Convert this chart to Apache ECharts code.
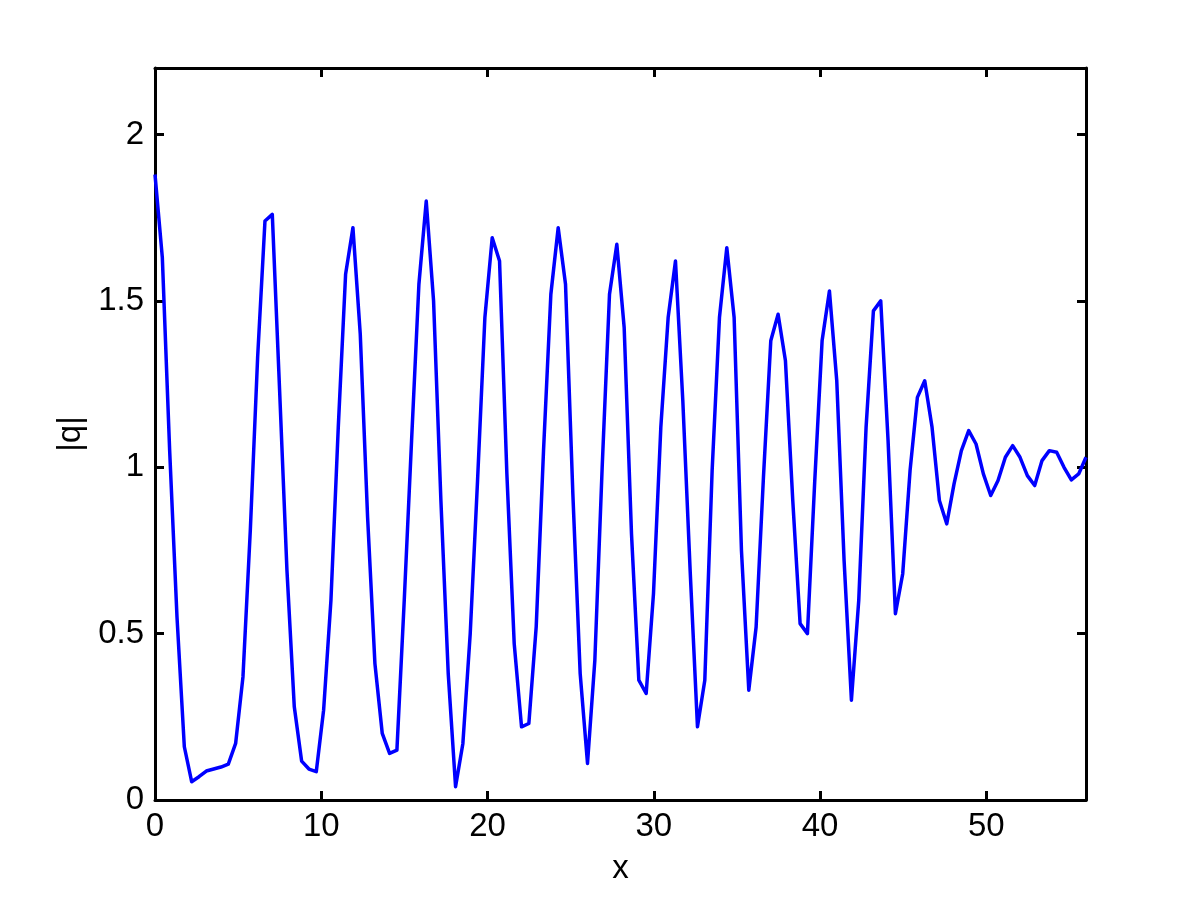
<!DOCTYPE html>
<html lang="en">
<head>
    <meta charset="UTF-8">
    <title>|q| vs x</title>
    <script type="text/javascript" src="https://cdn.jsdelivr.net/npm/echarts@6.0.0/dist/echarts.min.js"></script>
    <style>
        html, body { margin: 0; padding: 0; background: #fff; }
    </style>
</head>
<body>
    <div id="main" style="width: 1200px;height:900px;"></div>
    <script type="text/javascript">
        // sample grid: 128 points from x = 0 to x = 56
        var xStart = 0;
        var xEnd = 56;
        var nPoints = 128;

        // |q|, one value per sample point
        var qAbs = [
            1.88, 1.63, 1.05, 0.55, 0.16, 0.055, 0.07, 0.087, 0.093, 0.099,
            0.108, 0.17, 0.37, 0.81, 1.33, 1.74, 1.76, 1.23, 0.69, 0.28,
            0.117, 0.093, 0.085, 0.27, 0.60, 1.12, 1.58, 1.72, 1.40, 0.85,
            0.41, 0.20, 0.14, 0.15, 0.60, 1.08, 1.55, 1.80, 1.50, 0.90,
            0.38, 0.04, 0.17, 0.50, 0.96, 1.45, 1.69, 1.62, 0.98, 0.47,
            0.22, 0.23, 0.52, 1.05, 1.52, 1.72, 1.55, 0.92, 0.38, 0.11,
            0.42, 1.00, 1.52, 1.67, 1.42, 0.80, 0.36, 0.32, 0.62, 1.12,
            1.45, 1.62, 1.20, 0.69, 0.22, 0.36, 0.99, 1.45, 1.66, 1.45,
            0.75, 0.33, 0.52, 0.97, 1.38, 1.46, 1.32, 0.90, 0.53, 0.50,
            0.96, 1.38, 1.53, 1.26, 0.72, 0.30, 0.60, 1.12, 1.47, 1.50,
            1.08, 0.56, 0.68, 0.99, 1.21, 1.26, 1.12, 0.90, 0.83, 0.95,
            1.05, 1.11, 1.07, 0.98, 0.915, 0.96, 1.03, 1.065, 1.03, 0.975,
            0.945, 1.02, 1.05, 1.045, 1.00, 0.962, 0.98, 1.03
        ];

        var xTicks = [0, 10, 20, 30, 40, 50];
        var yTicks = [0, 0.5, 1, 1.5, 2];

        var xs = [];
        for (var i = 0; i < nPoints; i++) {
            xs.push(xStart + i * (xEnd - xStart) / (nPoints - 1));
        }
        var points = xs.map(function (x, i) { return [x, qAbs[i]]; });

        var font = 'Liberation Sans, Arial, Helvetica, sans-serif';
        var black = '#000';

        function makeX(pos, labels) {
            return {
                type: 'value', position: pos, min: 0, max: 56, interval: 10,
                axisLine: { show: true, onZero: false, lineStyle: { color: black, width: 3 } },
                axisTick: { show: true, inside: true, length: 9, lineStyle: { color: black, width: 3 } },
                axisLabel: {
                    show: labels, color: black, fontSize: 33, fontFamily: font, margin: 10,
                    showMaxLabel: false,
                    formatter: function (v) { return xTicks.indexOf(v) >= 0 ? String(v) : ''; }
                },
                splitLine: { show: false },
                name: labels ? 'x' : '', nameLocation: 'middle', nameGap: 52,
                nameTextStyle: { color: black, fontSize: 33, fontFamily: font }
            };
        }

        function makeY(pos, labels) {
            return {
                type: 'value', position: pos, min: 0, max: 2.2, interval: 0.5,
                axisLine: { show: true, onZero: false, lineStyle: { color: black, width: 3 } },
                axisTick: { show: true, inside: true, length: 9, lineStyle: { color: black, width: 3 } },
                axisLabel: {
                    show: labels, color: black, fontSize: 33, fontFamily: font, margin: 11,
                    showMaxLabel: false,
                    formatter: function (v) { return yTicks.indexOf(v) >= 0 ? String(v) : ''; }
                },
                splitLine: { show: false },
                name: labels ? '|q|' : '', nameLocation: 'middle', nameGap: 62,
                nameTextStyle: { color: black, fontSize: 33, fontFamily: font }
            };
        }

        var myChart = echarts.init(document.getElementById('main'), null, { renderer: 'canvas' });

        var option = {
            backgroundColor: '#fff',
            animation: false,
            grid: { left: 155, right: 114, top: 68, bottom: 100, containLabel: false },
            xAxis: [makeX('bottom', true), makeX('top', false)],
            yAxis: [makeY('left', true), makeY('right', false)],
            series: [{
                type: 'line',
                xAxisIndex: 0,
                yAxisIndex: 0,
                data: points,
                showSymbol: false,
                smooth: false,
                clip: true,
                lineStyle: { color: '#0000ff', width: 3.5, join: 'round' }
            }]
        };

        myChart.setOption(option);
    </script>
</body>
</html>
